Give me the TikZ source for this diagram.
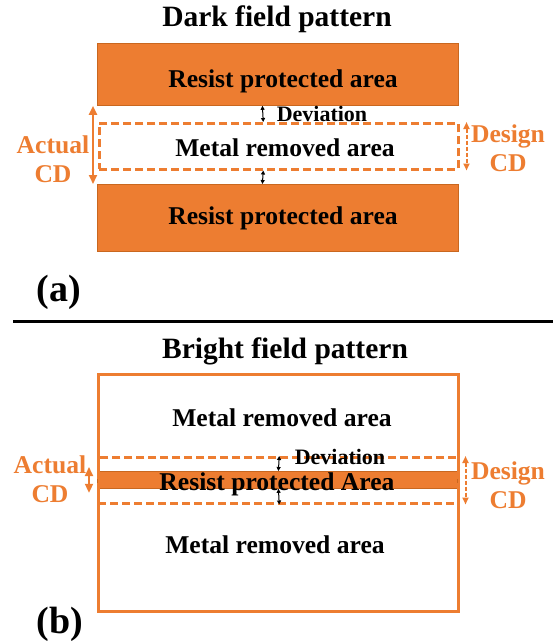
\documentclass[tikz,border=0pt]{standalone}
\usepackage{fontspec}
\setmainfont{Liberation Serif}
\usetikzlibrary{arrows.meta}

\definecolor{cdorange}{HTML}{ED7D31}
\definecolor{cdedge}{HTML}{C9671F}

\begin{document}
\begin{tikzpicture}[x=1pt, y=-1pt,
    titletext/.style={font=\fontsize{29.5}{34}\selectfont\bfseries},
    areatext/.style={font=\fontsize{25.6}{30}\selectfont\bfseries, inner sep=0pt},
    devtext/.style={font=\fontsize{22}{26}\selectfont\bfseries, inner sep=0pt},
    cdtext/.style={font=\fontsize{25.6}{29}\selectfont\bfseries, text=cdorange, align=center},
    panel/.style={font=\fontsize{38}{42}\selectfont\bfseries},
    resistbox/.style={fill=cdorange, draw=cdedge, line width=0.8pt, anchor=north west, inner sep=0pt},
    gapbox/.style={draw=cdorange, line width=2.5pt, dash pattern=on 8pt off 4pt, anchor=north west, inner sep=0pt},
    actualcd/.style={draw=cdorange, line width=2pt, {Triangle[length=9pt,width=8pt]}-{Triangle[length=9pt,width=8pt]}},
    designcd/.style={draw=cdorange, line width=2pt, dash pattern=on 4pt off 2pt, {Triangle[length=7pt,width=6pt]}-{Triangle[length=7pt,width=6pt]}},
    devarrow/.style={draw=black, line width=1pt, {Triangle[length=4pt,width=4pt]}-{Triangle[length=4pt,width=4pt]}}]
    \useasboundingbox (0,0) rectangle (553,643);

    % (a) dark field
    \node[titletext] (titlea) at (277,19) {Dark field pattern};
    \node[resistbox, minimum width=361pt, minimum height=62pt] (topres) at (97,43) {};
    \node[resistbox, minimum width=361pt, minimum height=67pt] (botres) at (97,184) {};
    \node[gapbox, minimum width=359pt, minimum height=46pt] (gapa) at (98,122) {};
    \node[areatext] (topresist) at (283,81) {Resist protected area};
    \node[areatext] (botresist) at (283,218) {Resist protected area};
    \node[areatext] (metala) at (285,148) {Metal removed area};
    \node[devtext] (deva) at (322,114) {Deviation};
    \node[cdtext] (actuala) at (53,159) {Actual\\CD};
    \node[cdtext] (designa) at (508,148) {Design\\CD};
    \node[panel] (panela) at (59,292) {(a)};

    \draw[actualcd] ([xshift=-4pt]topres.south west) -- ([xshift=-4pt]botres.north west);
    \draw[designcd] ([xshift=7pt]gapa.north east) -- ([xshift=7pt]gapa.south east);
    \draw[devarrow] ([xshift=-15.5pt]topres.south) -- ([xshift=-15.5pt]gapa.north);
    \draw[devarrow] ([xshift=-15.5pt]gapa.south) -- ([xshift=-15.5pt]botres.north);

    \draw[line width=3pt] (13,321) -- (553,321);

    % (b) bright field
    \node[titletext] (titleb) at (285,351) {Bright field pattern};
    \node[draw=cdorange, line width=2.5pt, anchor=north west, inner sep=0pt,
        minimum width=360pt, minimum height=237pt] (field) at (97,373) {};
    \node[resistbox, minimum width=360pt, minimum height=17pt] (strip) at (97,471) {};
    \node[gapbox, minimum width=360pt, minimum height=46pt] (gapb) at (97,456) {};
    \node[areatext] (metaltop) at (282,418) {Metal removed area};
    \node[areatext] (stripresist) at (277,484) {Resist protected Area};
    \node[areatext] (metalbot) at (275,545) {Metal removed area};
    \node[devtext] (devb) at (340,457) {Deviation};
    \node[cdtext] (actualb) at (50,479) {Actual\\CD};
    \node[cdtext] (designb) at (508,485) {Design\\CD};
    \node[panel] (panelb) at (60,624) {(b)};

    \draw[actualcd, shorten <=-4pt, shorten >=-4pt] ([xshift=-8pt]strip.north west) -- ([xshift=-8pt]strip.south west);
    \draw[designcd] ([xshift=6pt]gapb.north east) -- ([xshift=6pt]gapb.south east);
    \draw[devarrow] ([xshift=1pt]gapb.north) -- ([xshift=1pt]strip.north);
    \draw[devarrow] ([xshift=1pt]strip.south) -- ([xshift=1pt]gapb.south);
\end{tikzpicture}
\end{document}
